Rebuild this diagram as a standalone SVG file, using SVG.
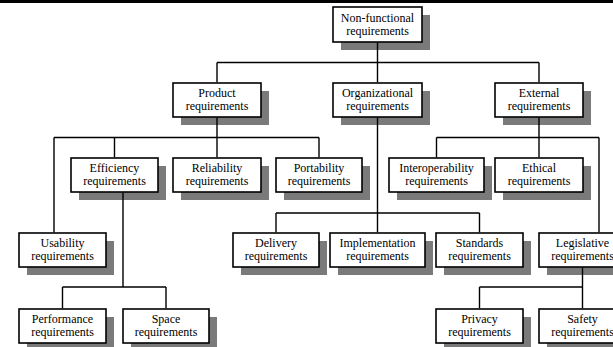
<svg xmlns="http://www.w3.org/2000/svg" width="613" height="347" viewBox="0 0 613 347">
<style>
.bg{fill:#ffffff}
.sh{fill:#7a7a7a}
.bx{fill:#ffffff;stroke:#000000;stroke-width:1.6}
.t{font-family:"Liberation Serif","Times New Roman",serif;font-size:12px;fill:#000000;text-anchor:middle}
.c{fill:none;stroke:#000000;stroke-width:1.4}
</style>
<rect class="bg" x="0" y="0" width="613" height="347"/>
<rect x="0" y="0" width="613" height="3" fill="#000000"/>

<g id="n-nonfunctional"><rect class="sh" x="341" y="15" width="89" height="35"/><rect class="bx" x="333" y="7" width="89" height="35"/><text class="t" x="377.5" y="21.5">Non-functional</text><text class="t" x="377.5" y="34.5">requirements</text></g>

<g id="n-product"><rect class="sh" x="181" y="91" width="88" height="34"/><rect class="bx" x="173" y="83" width="88" height="34"/><text class="t" x="217" y="97">Product</text><text class="t" x="217" y="110">requirements</text></g>
<g id="n-organizational"><rect class="sh" x="341" y="91" width="89" height="34"/><rect class="bx" x="333" y="83" width="89" height="34"/><text class="t" x="377.5" y="97">Organizational</text><text class="t" x="377.5" y="110">requirements</text></g>
<g id="n-external"><rect class="sh" x="503" y="91" width="88" height="34"/><rect class="bx" x="495" y="83" width="88" height="34"/><text class="t" x="539" y="97">External</text><text class="t" x="539" y="110">requirements</text></g>

<g id="n-efficiency"><rect class="sh" x="79" y="166" width="87" height="34"/><rect class="bx" x="71" y="158" width="87" height="34"/><text class="t" x="114.5" y="172">Efficiency</text><text class="t" x="114.5" y="185">requirements</text></g>
<g id="n-reliability"><rect class="sh" x="181" y="166" width="88" height="34"/><rect class="bx" x="173" y="158" width="88" height="34"/><text class="t" x="217" y="172">Reliability</text><text class="t" x="217" y="185">requirements</text></g>
<g id="n-portability"><rect class="sh" x="284" y="166" width="86" height="34"/><rect class="bx" x="276" y="158" width="86" height="34"/><text class="t" x="319" y="172">Portability</text><text class="t" x="319" y="185">requirements</text></g>
<g id="n-interoperability"><rect class="sh" x="397" y="166" width="95" height="34"/><rect class="bx" x="389" y="158" width="95" height="34"/><text class="t" x="436.5" y="172">Interoperability</text><text class="t" x="436.5" y="185">requirements</text></g>
<g id="n-ethical"><rect class="sh" x="503" y="166" width="88" height="34"/><rect class="bx" x="495" y="158" width="88" height="34"/><text class="t" x="539" y="172">Ethical</text><text class="t" x="539" y="185">requirements</text></g>

<g id="n-usability"><rect class="sh" x="27" y="241" width="87" height="34"/><rect class="bx" x="19" y="233" width="87" height="34"/><text class="t" x="62.5" y="247">Usability</text><text class="t" x="62.5" y="260">requirements</text></g>
<g id="n-delivery"><rect class="sh" x="241" y="241" width="86" height="34"/><rect class="bx" x="233" y="233" width="86" height="34"/><text class="t" x="276" y="247">Delivery</text><text class="t" x="276" y="260">requirements</text></g>
<g id="n-implementation"><rect class="sh" x="338" y="241" width="95" height="34"/><rect class="bx" x="330" y="233" width="95" height="34"/><text class="t" x="377.5" y="247">Implementation</text><text class="t" x="377.5" y="260">requirements</text></g>
<g id="n-standards"><rect class="sh" x="444" y="241" width="87" height="34"/><rect class="bx" x="436" y="233" width="87" height="34"/><text class="t" x="479.5" y="247">Standards</text><text class="t" x="479.5" y="260">requirements</text></g>
<g id="n-legislative"><rect class="sh" x="547" y="241" width="87" height="34"/><rect class="bx" x="539" y="233" width="87" height="34"/><text class="t" x="582.5" y="247">Legislative</text><text class="t" x="582.5" y="260">requirements</text></g>

<g id="n-performance"><rect class="sh" x="27" y="317" width="87" height="34"/><rect class="bx" x="19" y="309" width="87" height="34"/><text class="t" x="62.5" y="323">Performance</text><text class="t" x="62.5" y="336">requirements</text></g>
<g id="n-space"><rect class="sh" x="131" y="317" width="86" height="34"/><rect class="bx" x="123" y="309" width="86" height="34"/><text class="t" x="166" y="323">Space</text><text class="t" x="166" y="336">requirements</text></g>
<g id="n-privacy"><rect class="sh" x="444" y="317" width="87" height="34"/><rect class="bx" x="436" y="309" width="87" height="34"/><text class="t" x="479.5" y="323">Privacy</text><text class="t" x="479.5" y="336">requirements</text></g>
<g id="n-safety"><rect class="sh" x="547" y="317" width="87" height="34"/><rect class="bx" x="539" y="309" width="87" height="34"/><text class="t" x="582.5" y="323">Safety</text><text class="t" x="582.5" y="336">requirements</text></g>

<g id="connectors">
<path class="c" d="M377.5 42.8V82.2 M217 62.5H539 M217 62.5V82.2 M539 62.5V82.2"/>
<path class="c" d="M217 117.8V137.5 M54 137.5H319 M54 137.5V232.2 M114.5 137.5V157.2 M217 137.5V157.2 M319 137.5V157.2"/>
<path class="c" d="M123 192.8V287 M62.5 287H166 M62.5 287V308.2 M166 287V308.2"/>
<path class="c" d="M377.5 117.8V232.2 M276 213H479.5 M276 213V232.2 M479.5 213V232.2"/>
<path class="c" d="M539 117.8V157.2 M436.5 137.5H599 M436.5 137.5V157.2 M599 137.5V232.2"/>
<path class="c" d="M582.5 267.8V287 M479.5 287H582.5 M479.5 287V308.2 M582.5 287V308.2"/>
</g>
</svg>
